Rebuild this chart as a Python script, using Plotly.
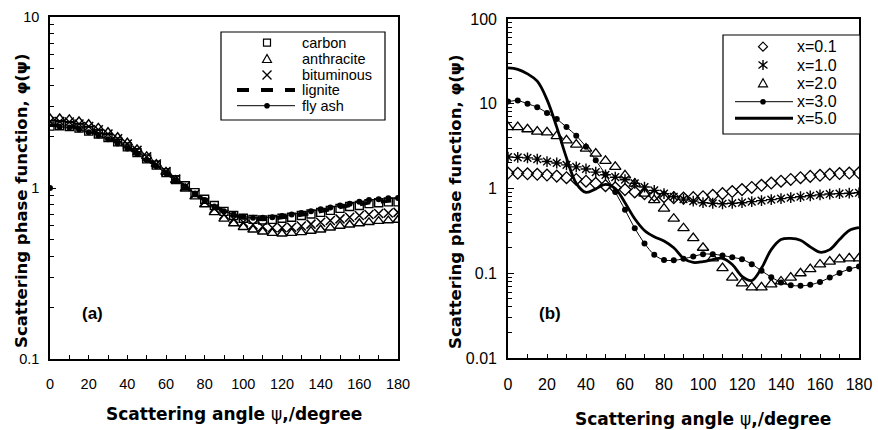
import plotly.graph_objects as go

# ---------------- data ----------------
angle = list(range(0, 181, 5))

# panel (a)
carbon = [2.30, 2.31, 2.29, 2.24, 2.15, 2.07, 1.97, 1.86, 1.74, 1.61, 1.48, 1.36, 1.23, 1.12, 1.03, 0.94, 0.86,
          0.79, 0.73, 0.69, 0.665, 0.655, 0.65, 0.655, 0.665, 0.675, 0.69, 0.705, 0.72, 0.74, 0.76, 0.78, 0.79,
          0.81, 0.82, 0.83, 0.83]
anthracite = [2.55, 2.55, 2.52, 2.45, 2.36, 2.25, 2.12, 1.98, 1.84, 1.68, 1.53, 1.38, 1.24, 1.11, 0.99, 0.89, 0.80,
              0.72, 0.66, 0.62, 0.59, 0.57, 0.555, 0.545, 0.54, 0.545, 0.55, 0.56, 0.57, 0.585, 0.60, 0.61, 0.62,
              0.63, 0.64, 0.645, 0.65]
bituminous = [2.45, 2.45, 2.43, 2.37, 2.29, 2.19, 2.07, 1.94, 1.81, 1.66, 1.52, 1.38, 1.25, 1.13, 1.02, 0.92, 0.83,
              0.76, 0.70, 0.66, 0.63, 0.61, 0.595, 0.585, 0.585, 0.59, 0.60, 0.615, 0.63, 0.645, 0.66, 0.675, 0.69,
              0.70, 0.71, 0.715, 0.72]
lignite = [2.33, 2.33, 2.31, 2.25, 2.17, 2.08, 1.98, 1.86, 1.74, 1.61, 1.48, 1.35, 1.23, 1.12, 1.02, 0.93, 0.85,
           0.79, 0.73, 0.695, 0.67, 0.66, 0.655, 0.66, 0.67, 0.68, 0.695, 0.71, 0.73, 0.75, 0.77, 0.79, 0.80,
           0.82, 0.83, 0.84, 0.85]
fly_ash = [1.00, 2.28, 2.26, 2.20, 2.12, 2.03, 1.93, 1.82, 1.70, 1.58, 1.46, 1.34, 1.22, 1.11, 1.02, 0.93, 0.85,
           0.78, 0.73, 0.70, 0.68, 0.67, 0.67, 0.675, 0.685, 0.70, 0.715, 0.73, 0.75, 0.77, 0.79, 0.81, 0.83,
           0.85, 0.86, 0.87, 0.875]

# panel (b)
x01 = [1.52, 1.51, 1.49, 1.47, 1.44, 1.40, 1.34, 1.28, 1.22, 1.15, 1.08, 1.02, 0.97, 0.91, 0.87, 0.83, 0.80,
       0.78, 0.77, 0.78, 0.80, 0.83, 0.87, 0.92, 0.97, 1.03, 1.09, 1.16, 1.22, 1.28, 1.34, 1.39, 1.43,
       1.47, 1.50, 1.52, 1.53]
x10 = [2.35, 2.33, 2.30, 2.22, 2.08, 2.00, 1.90, 1.80, 1.70, 1.56, 1.45, 1.36, 1.27, 1.15, 1.04, 0.95, 0.87,
       0.80, 0.75, 0.71, 0.68, 0.67, 0.66, 0.67, 0.68, 0.70, 0.72, 0.74, 0.76, 0.78, 0.80, 0.82, 0.84,
       0.86, 0.87, 0.88, 0.89]
x20 = [5.3, 5.3, 5.0, 4.7, 4.6, 4.16, 3.7, 3.3, 2.95, 2.58, 2.12, 1.80, 1.43, 1.14, 0.87, 0.73, 0.58,
       0.44, 0.34, 0.26, 0.20, 0.15, 0.115, 0.089, 0.076, 0.068, 0.068, 0.074, 0.080, 0.089, 0.100, 0.112, 0.127,
       0.137, 0.146, 0.150, 0.150]
x30 = [10.6, 10.9, 10.0, 9.1, 7.8, 6.6, 5.3, 4.2, 3.1, 2.15, 1.46, 0.91, 0.56, 0.34, 0.225, 0.165, 0.143,
       0.142, 0.148, 0.158, 0.168, 0.168, 0.162, 0.154, 0.146, 0.128, 0.107, 0.090, 0.078, 0.072, 0.071, 0.073, 0.079,
       0.089, 0.101, 0.112, 0.120]
x50 = [26.5, 25.5, 22.5, 18.5, 11.2, 5.3, 2.3, 1.15, 0.90, 0.99, 1.12, 1.00, 0.68, 0.44, 0.32, 0.27, 0.24,
       0.20, 0.15, 0.134, 0.137, 0.145, 0.150, 0.127, 0.092, 0.082, 0.115, 0.19, 0.25, 0.258, 0.245, 0.205, 0.177,
       0.19, 0.25, 0.32, 0.345]

W, H = 878, 430
FONT = "Liberation Sans, Arial, sans-serif"
TFONT = "DejaVu Sans, Liberation Sans, sans-serif"


def px(x):
    return x / W


def py(y):
    return 1 - y / H


fig = go.Figure()

# ---------- panel (a) traces ----------
fig.add_trace(go.Scatter(x=angle, y=lignite, mode="lines", name="lignite",
                         line=dict(color="black", width=3.5, dash="dash"), xaxis="x", yaxis="y"))
fig.add_trace(go.Scatter(x=angle[1:], y=fly_ash[1:], mode="lines+markers", name="fly ash",
                         line=dict(color="black", width=1), marker=dict(symbol="circle", size=6, color="black"),
                         xaxis="x", yaxis="y"))
fig.add_trace(go.Scatter(x=angle[:1], y=fly_ash[:1], mode="markers", name="fly ash",
                         marker=dict(symbol="circle", size=6, color="black"), xaxis="x", yaxis="y"))
fig.add_trace(go.Scatter(x=angle, y=carbon, mode="markers", name="carbon",
                         marker=dict(symbol="square-open", size=8, color="black", line=dict(width=1.4)),
                         xaxis="x", yaxis="y"))
fig.add_trace(go.Scatter(x=angle, y=anthracite, mode="markers", name="anthracite",
                         marker=dict(symbol="triangle-up-open", size=9, color="black", line=dict(width=1.4)),
                         xaxis="x", yaxis="y"))
fig.add_trace(go.Scatter(x=angle, y=bituminous, mode="markers", name="bituminous",
                         marker=dict(symbol="x-thin-open", size=9, color="black", line=dict(width=1.5)),
                         xaxis="x", yaxis="y"))

# ---------- panel (b) traces ----------
fig.add_trace(go.Scatter(x=angle, y=x01, mode="markers", name="x=0.1",
                         marker=dict(symbol="diamond-open", size=9, color="black", line=dict(width=1.3)),
                         xaxis="x2", yaxis="y2"))
fig.add_trace(go.Scatter(x=angle, y=x10, mode="markers", name="x=1.0",
                         marker=dict(symbol="asterisk-open", size=9, color="black", line=dict(width=1.4)),
                         xaxis="x2", yaxis="y2"))
fig.add_trace(go.Scatter(x=angle, y=x20, mode="markers", name="x=2.0",
                         marker=dict(symbol="triangle-up-open", size=10, color="black", line=dict(width=1.3)),
                         xaxis="x2", yaxis="y2"))
fig.add_trace(go.Scatter(x=angle, y=x30, mode="lines+markers", name="x=3.0",
                         line=dict(color="black", width=1, shape="spline", smoothing=0.8),
                         marker=dict(symbol="circle", size=6, color="black"), xaxis="x2", yaxis="y2"))
fig.add_trace(go.Scatter(x=angle, y=x50, mode="lines", name="x=5.0",
                         line=dict(color="black", width=2.8, shape="spline", smoothing=1.0),
                         xaxis="x2", yaxis="y2"))

for tr in fig.data:
    tr.showlegend = False


def minor_vals(lo, hi):
    vals = []
    for e in range(lo, hi):
        for k in range(2, 10):
            vals.append(k * 10 ** e)
    return vals


xcommon = dict(range=[0, 180], tickmode="array", tickvals=list(range(0, 181, 20)),
               ticks="inside", ticklen=4, tickwidth=1.2, tickcolor="black",
               minor=dict(tickmode="array", tickvals=list(range(10, 180, 20)), ticks="inside",
                          ticklen=4, tickwidth=1.2, tickcolor="black"),
               showline=True, linecolor="black", linewidth=1.6, mirror=True, showgrid=False,
               zeroline=False, automargin=False, ticklabelstandoff=11)
ycommon = dict(type="log", ticks="inside", ticklen=6, tickwidth=1.2, tickcolor="black",
               showline=True, linecolor="black", linewidth=1.6, mirror=True, showgrid=False,
               zeroline=False, automargin=False, ticklabelstandoff=6)

fig.update_layout(
    width=W, height=H,
    margin=dict(l=0, r=0, t=0, b=0),
    paper_bgcolor="white", plot_bgcolor="white",
    font=dict(family=FONT, color="black"),
    showlegend=False,
    xaxis=dict(domain=[px(50), px(398)], anchor="y", tickfont=dict(size=14.5), **xcommon),
    yaxis=dict(domain=[py(359), py(17)], anchor="x", range=[-1, 1],
               tickvals=[0.1, 1, 10], ticktext=["0.1", "1", "10"], tickfont=dict(size=14.5),
               minor=dict(tickmode="array", tickvals=minor_vals(-1, 1), ticks="inside", ticklen=4,
                          tickwidth=1, tickcolor="black"),
               **ycommon),
    xaxis2=dict(domain=[px(508), px(859)], anchor="y2", tickfont=dict(size=16), **xcommon),
    yaxis2=dict(domain=[py(358), py(19)], anchor="x2", range=[-2, 2],
                tickvals=[0.01, 0.1, 1, 10, 100], ticktext=["0.01", "0.1", "1", "10", "100"],
                tickfont=dict(size=16),
                minor=dict(tickmode="array", tickvals=minor_vals(-2, 2), ticks="inside", ticklen=4,
                           tickwidth=1, tickcolor="black"),
                **ycommon),
)

shapes = []
ann = []


def label(x, y, text, size, family=FONT, angle=0, xanchor="center"):
    ann.append(dict(x=px(x), y=py(y), text=text, textangle=angle, xanchor=xanchor, yanchor="middle",
                    font=dict(size=size, family=family, color="black"), showarrow=False,
                    xref="paper", yref="paper"))


# ---------- titles & panel labels ----------
YT = "<b>Scattering phase function, φ(ψ)</b>"
XT = "<b>Scattering angle </b>ψ<b>,/degree</b>"
label(21, 201, YT, 16.5, TFONT, -90)
label(455, 202, YT, 16.5, TFONT, -90)
label(234, 414, XT, 17, TFONT)
label(703, 419, XT, 17, TFONT)
label(92, 313, "<b>(a)</b>", 17)
label(550, 313, "<b>(b)</b>", 17)

# ---------- legend (a) ----------
LW = dict(color="black", width=1.2)
shapes.append(dict(type="rect", xref="paper", yref="paper", x0=px(221), x1=px(385), y0=py(120), y1=py(32),
                   line=dict(color="black", width=1.2), fillcolor="white", layer="above"))
rows_a = [("carbon", 42.7), ("anthracite", 59), ("bituminous", 75), ("lignite", 90), ("fly ash", 105.7)]
sx = 267
shapes.append(dict(type="rect", xref="paper", yref="paper", x0=px(sx - 3.5), x1=px(sx + 3.5),
                   y0=py(42.7 + 3.5), y1=py(42.7 - 3.5), line=LW))
cy = 59
shapes.append(dict(type="path", xref="paper", yref="paper",
                   path=f"M {px(sx)} {py(cy - 4.5)} L {px(sx - 4.5)} {py(cy + 3.5)} L {px(sx + 4.5)} {py(cy + 3.5)} Z",
                   line=LW))
cy = 75
shapes.append(dict(type="path", xref="paper", yref="paper",
                   path=f"M {px(sx - 4.5)} {py(cy - 4.5)} L {px(sx + 4.5)} {py(cy + 4.5)} "
                        f"M {px(sx - 4.5)} {py(cy + 4.5)} L {px(sx + 4.5)} {py(cy - 4.5)}",
                   line=dict(color="black", width=1.4)))
shapes.append(dict(type="line", xref="paper", yref="paper", x0=px(237), x1=px(295), y0=py(90), y1=py(90),
                   line=dict(color="black", width=4, dash="dash")))
shapes.append(dict(type="line", xref="paper", yref="paper", x0=px(237), x1=px(295), y0=py(105.7), y1=py(105.7),
                   line=dict(color="black", width=1)))
shapes.append(dict(type="circle", xref="paper", yref="paper", x0=px(sx - 2.8), x1=px(sx + 2.8),
                   y0=py(105.7 + 2.8), y1=py(105.7 - 2.8), line=dict(color="black", width=0), fillcolor="black"))
for name, yy in rows_a:
    label(300, yy, name, 14.5, FONT, 0, "left")

# ---------- legend (b) ----------
shapes.append(dict(type="rect", xref="paper", yref="paper", x0=px(723), x1=px(860), y0=py(134), y1=py(35),
                   line=dict(color="black", width=1.2), fillcolor="white", layer="above"))
rows_b = [("x=0.1", 46.7), ("x=1.0", 65), ("x=2.0", 83.3), ("x=3.0", 101.7), ("x=5.0", 118.3)]
sx = 763
cy = 46.7
shapes.append(dict(type="path", xref="paper", yref="paper",
                   path=f"M {px(sx)} {py(cy - 4.5)} L {px(sx + 4.5)} {py(cy)} L {px(sx)} {py(cy + 4.5)} "
                        f"L {px(sx - 4.5)} {py(cy)} Z", line=LW))
cy = 65
shapes.append(dict(type="path", xref="paper", yref="paper",
                   path=f"M {px(sx)} {py(cy - 5)} L {px(sx)} {py(cy + 5)} "
                        f"M {px(sx - 4.5)} {py(cy - 3.5)} L {px(sx + 4.5)} {py(cy + 3.5)} "
                        f"M {px(sx - 4.5)} {py(cy + 3.5)} L {px(sx + 4.5)} {py(cy - 3.5)}",
                   line=dict(color="black", width=1.4)))
cy = 83.3
shapes.append(dict(type="path", xref="paper", yref="paper",
                   path=f"M {px(sx)} {py(cy - 4.5)} L {px(sx - 4.5)} {py(cy + 3.5)} L {px(sx + 4.5)} {py(cy + 3.5)} Z",
                   line=LW))
cy = 101.7
shapes.append(dict(type="line", xref="paper", yref="paper", x0=px(735), x1=px(793), y0=py(cy), y1=py(cy),
                   line=dict(color="black", width=1)))
shapes.append(dict(type="circle", xref="paper", yref="paper", x0=px(sx - 2.8), x1=px(sx + 2.8),
                   y0=py(cy + 2.8), y1=py(cy - 2.8), line=dict(color="black", width=0), fillcolor="black"))
cy = 118.3
shapes.append(dict(type="line", xref="paper", yref="paper", x0=px(735), x1=px(793), y0=py(cy), y1=py(cy),
                   line=dict(color="black", width=3)))
for name, yy in rows_b:
    label(795, yy, name, 16, FONT, 0, "left")

fig.update_layout(shapes=shapes, annotations=ann)
fig.write_html("out.html", config={"displayModeBar": False},
               post_script="document.body.style.margin='0';")
